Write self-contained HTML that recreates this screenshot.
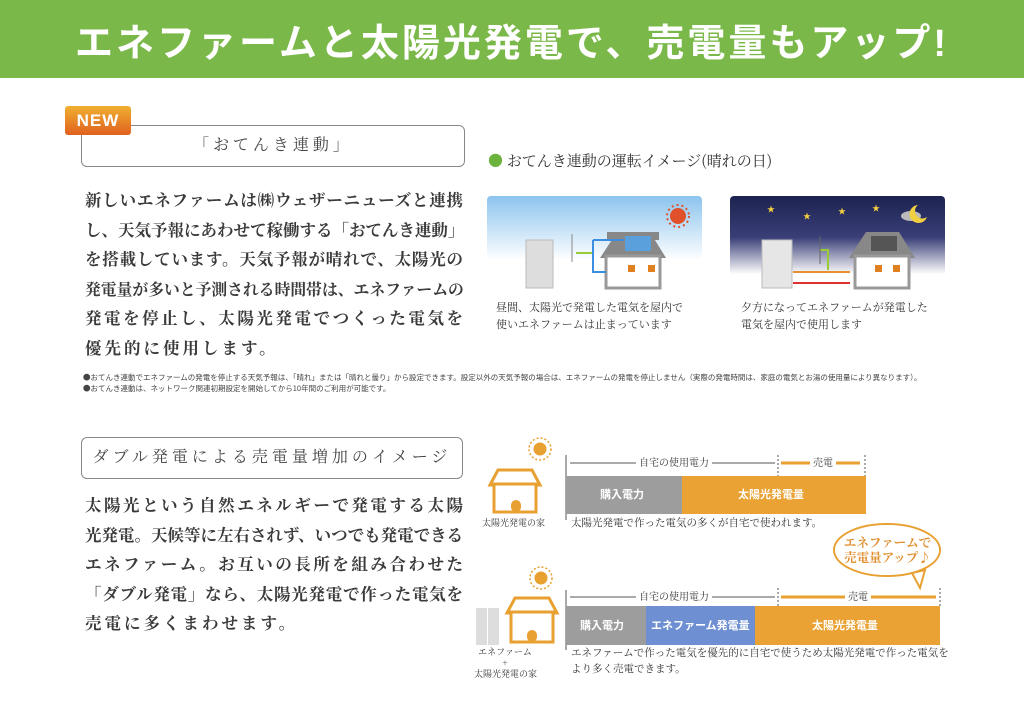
<!DOCTYPE html>
<html><head><meta charset="utf-8"><style>
*{margin:0;padding:0;box-sizing:border-box}
body{width:1024px;height:721px;background:#fff;position:relative;overflow:hidden;font-family:"Liberation Serif","Noto Serif CJK SC","Noto Sans CJK JP",serif;color:#333}
.a{position:absolute;white-space:nowrap}
.hdr{left:0;top:0;width:1024px;height:78px;background:#7bb84a}
.title{left:0;top:12px;width:1024px;text-align:center;color:#fff;font-family:"Liberation Sans","Noto Sans CJK JP",sans-serif;font-size:38px;font-weight:bold;letter-spacing:3px}
.box{border:1.5px solid #888;border-radius:6px;background:#fff;text-align:center;font-size:16px;letter-spacing:4px;color:#444}
.p div{font-size:16.5px;height:29.6px;line-height:29.6px;text-align:justify;text-align-last:justify;width:378px;font-weight:bold;color:#3a3a3a;font-family:"Noto Serif CJK SC",serif;overflow:visible}
.p2 div{font-size:16.5px;height:29.5px;line-height:29.5px}
.cap{font-size:11px;line-height:17px;color:#333;font-family:"Noto Serif CJK SC",serif}
.note{font-size:7.5px;line-height:11px;color:#444;font-family:"Noto Sans CJK JP",sans-serif}
</style></head><body>
<div class="a hdr"></div>
<div class="a title">エネファームと太陽光発電で、売電量もアップ!</div>

<div class="a box" style="left:81px;top:125px;width:384px;height:42px;line-height:39px">「おてんき連動」</div>
<div class="a" style="left:65px;top:106px;width:66px;height:29px;background:linear-gradient(#f0b030,#e06020);border-radius:3px;color:#fff;font-family:'Liberation Sans',sans-serif;font-weight:bold;font-size:17px;text-align:center;line-height:29px;letter-spacing:1px">NEW</div>

<div class="a p" style="left:85px;top:185px">
<div>新しいエネファームは㈱ウェザーニューズと連携</div>
<div>し、天気予報にあわせて稼働する「おてんき連動」</div>
<div>を搭載しています。天気予報が晴れで、太陽光の</div>
<div style="font-size:15.8px">発電量が多いと予測される時間帯は、エネファームの</div>
<div>発電を停止し、太陽光発電でつくった電気を</div>
<div style="text-align-last:left;letter-spacing:3px">優先的に使用します。</div>
</div>

<div class="a" style="left:488px;top:150px;font-size:15px;color:#333;font-family:'Noto Serif CJK SC',serif"><span style="color:#6cb33e">●</span> おてんき連動の運転イメージ(晴れの日)</div>

<svg class="a" style="left:0;top:0" width="1024" height="721">
<defs>
<linearGradient id="day" x1="0" y1="0" x2="0" y2="1"><stop offset="0" stop-color="#8cc4ee"/><stop offset="0.7" stop-color="#fff"/></linearGradient>
<linearGradient id="night" x1="0" y1="0" x2="0" y2="1"><stop offset="0" stop-color="#1c2350"/><stop offset="0.45" stop-color="#3a3f78"/><stop offset="0.85" stop-color="#fff"/></linearGradient>
</defs>
<rect x="487" y="196" width="215" height="92" rx="4" fill="url(#day)"/>
<circle cx="678" cy="216" r="8" fill="#e0502a"/>
<circle cx="678" cy="216" r="11" fill="none" stroke="#e0502a" stroke-width="2" stroke-dasharray="2 3"/>
<rect x="526" y="240" width="27" height="48" fill="#ddd" stroke="#bbb"/>
<rect x="607" y="232" width="52" height="8" fill="#888"/>
<polygon points="600,258 617,232 650,232 666,258" fill="#888"/>
<rect x="606" y="256" width="54" height="32" fill="#fff" stroke="#999" stroke-width="3"/>
<rect x="625" y="236" width="26" height="15" fill="#5aa0dc"/>
<rect x="628" y="265" width="7" height="7" fill="#e08020"/><rect x="648" y="265" width="7" height="7" fill="#e08020"/>
<polyline points="576,253 593,253" stroke="#9c3" stroke-width="2" fill="none"/>
<polyline points="593,240 593,272 606,272" stroke="#3b8ee0" stroke-width="2" fill="none"/>
<polyline points="593,240 624,240" stroke="#3b8ee0" stroke-width="2" fill="none"/>
<line x1="572" y1="234" x2="572" y2="262" stroke="#888"/>
<rect x="730" y="196" width="215" height="92" rx="4" fill="url(#night)"/>
<g fill="#f5d040" font-size="8"><text x="767" y="212">★</text><text x="803" y="219">★</text><text x="838" y="214">★</text><text x="872" y="211">★</text></g>
<ellipse cx="911" cy="216" rx="10" ry="5" fill="#bbb"/>
<path d="M918 205 a9 9 0 1 0 9 12 a7 7 0 1 1 -9 -12z" fill="#f0d040"/>
<rect x="762" y="240" width="30" height="48" fill="#e6e6e6" stroke="#bbb"/>
<polygon points="849,258 866,232 899,232 915,258" fill="#888"/>
<rect x="855" y="256" width="54" height="32" fill="#fff" stroke="#999" stroke-width="3"/>
<rect x="871" y="236" width="26" height="15" fill="#555"/>
<rect x="875" y="265" width="7" height="7" fill="#e08020"/><rect x="893" y="265" width="7" height="7" fill="#e08020"/>
<line x1="793" y1="272" x2="850" y2="272" stroke="#e89030" stroke-width="2"/>
<line x1="793" y1="283" x2="850" y2="283" stroke="#e03030" stroke-width="2"/>
<polyline points="820,250 828,250 828,270" stroke="#9c3" stroke-width="2" fill="none"/>
<line x1="820" y1="236" x2="820" y2="264" stroke="#666"/>
<g stroke="#e8a030" fill="none" stroke-width="3">
<circle cx="540" cy="449" r="5" fill="#e8a030"/>
<polygon points="490,485 498,470 532,470 540,485" fill="#fff"/>
<rect x="494" y="484" width="42" height="28" fill="#fff"/>
<circle cx="541" cy="578" r="5" fill="#e8a030"/>
<polygon points="507,613 515,598 549,598 557,613" fill="#fff"/>
<rect x="511" y="612" width="42" height="30" fill="#fff"/>
</g>
<rect x="511" y="500" width="10" height="12" rx="5" fill="#e8a030"/>
<rect x="527" y="630" width="10" height="12" rx="5" fill="#e8a030"/>
<g stroke="#e8a030" stroke-width="1.5" stroke-dasharray="2 2"><circle cx="540" cy="449" r="11" fill="none"/><circle cx="541" cy="578" r="11" fill="none"/></g>
<rect x="476" y="608" width="11" height="37" fill="#ddd"/><rect x="488" y="608" width="11" height="37" fill="#ddd"/>
<line x1="566" y1="455" x2="566" y2="520" stroke="#555"/>
<line x1="570" y1="463" x2="775" y2="463" stroke="#555"/>
<line x1="778" y1="455" x2="778" y2="476" stroke="#555" stroke-dasharray="2 2"/>
<line x1="865" y1="455" x2="865" y2="476" stroke="#555" stroke-dasharray="2 2"/>
<line x1="781" y1="463" x2="860" y2="463" stroke="#e8a030" stroke-width="3"/>
<rect x="566" y="476" width="116" height="38" fill="#9d9d9d"/>
<rect x="682" y="476" width="184" height="38" fill="#e9a233"/>
<line x1="566" y1="590" x2="566" y2="650" stroke="#555"/>
<line x1="570" y1="597" x2="775" y2="597" stroke="#555"/>
<line x1="778" y1="588" x2="778" y2="606" stroke="#555" stroke-dasharray="2 2"/>
<line x1="940" y1="588" x2="940" y2="606" stroke="#555" stroke-dasharray="2 2"/>
<line x1="781" y1="597" x2="936" y2="597" stroke="#e8a030" stroke-width="3"/>
<rect x="566" y="606" width="80" height="39" fill="#9d9d9d"/>
<rect x="646" y="606" width="109" height="39" fill="#6e8fd2"/>
<rect x="755" y="606" width="185" height="39" fill="#e9a233"/>
<ellipse cx="887" cy="550" rx="53" ry="26" fill="#fff" stroke="#e8a030" stroke-width="2"/>
<polygon points="912,573 920,588 925,570" fill="#fff" stroke="#e8a030" stroke-width="2"/>
<ellipse cx="887" cy="550" rx="52" ry="25" fill="#fff"/>
</svg>

<div class="a cap" style="left:496px;top:299px">昼間、太陽光で発電した電気を屋内で<br>使いエネファームは止まっています</div>
<div class="a cap" style="left:741px;top:299px">夕方になってエネファームが発電した<br>電気を屋内で使用します</div>

<div class="a note" style="left:83px;top:372px">●おてんき連動でエネファームの発電を停止する天気予報は、「晴れ」または「晴れと曇り」から設定できます。設定以外の天気予報の場合は、エネファームの発電を停止しません（実際の発電時間は、家庭の電気とお湯の使用量により異なります）。<br>●おてんき連動は、ネットワーク関連初期設定を開始してから10年間のご利用が可能です。</div>

<div class="a box" style="left:81px;top:437px;width:382px;height:42px;line-height:39px">ダブル発電による売電量増加のイメージ</div>

<div class="a p p2" style="left:85px;top:490px">
<div>太陽光という自然エネルギーで発電する太陽</div>
<div>光発電。天候等に左右されず、いつでも発電できる</div>
<div>エネファーム。お互いの長所を組み合わせた</div>
<div>「ダブル発電」なら、太陽光発電で作った電気を</div>
<div style="text-align-last:left;letter-spacing:3px">売電に多くまわせます。</div>
</div>

<div class="a cap" style="left:482px;top:514px;font-size:9px">太陽光発電の家</div>
<div class="a cap" style="left:636px;top:455px;font-size:10px;background:#fff;padding:0 3px;line-height:14px">自宅の使用電力</div>
<div class="a cap" style="left:810px;top:455px;font-size:10px;background:#fff;padding:0 3px;line-height:14px">売電</div>
<div class="a" style="left:600px;top:486px;color:#fff;font-size:11px;font-weight:bold;font-family:'Noto Sans CJK JP',sans-serif">購入電力</div>
<div class="a" style="left:738px;top:486px;color:#fff;font-size:11px;font-weight:bold;font-family:'Noto Sans CJK JP',sans-serif">太陽光発電量</div>
<div class="a cap" style="left:571px;top:514px;font-size:10.5px">太陽光発電で作った電気の多くが自宅で使われます。</div>

<div class="a" style="left:840px;top:535px;width:95px;text-align:center;color:#e09030;font-size:12.5px;line-height:15px;font-family:'Noto Serif CJK SC',serif;font-weight:bold">エネファームで<br>売電量アップ♪</div>

<div class="a cap" style="left:636px;top:589px;font-size:10px;background:#fff;padding:0 3px;line-height:14px">自宅の使用電力</div>
<div class="a cap" style="left:845px;top:589px;font-size:10px;background:#fff;padding:0 3px;line-height:14px">売電</div>
<div class="a" style="left:580px;top:617px;color:#fff;font-size:11px;font-weight:bold;font-family:'Noto Sans CJK JP',sans-serif">購入電力</div>
<div class="a" style="left:651px;top:617px;color:#fff;font-size:11px;font-weight:bold;font-family:'Noto Sans CJK JP',sans-serif">エネファーム発電量</div>
<div class="a" style="left:812px;top:617px;color:#fff;font-size:11px;font-weight:bold;font-family:'Noto Sans CJK JP',sans-serif">太陽光発電量</div>
<div class="a cap" style="left:571px;top:645px;font-size:10.5px;line-height:16px">エネファームで作った電気を優先的に自宅で使うため太陽光発電で作った電気を<br>より多く売電できます。</div>
<div class="a cap" style="left:474px;top:646px;width:62px;text-align:center;font-size:9px;line-height:11px">エネファーム<br>+<br>太陽光発電の家</div>
</body></html>
